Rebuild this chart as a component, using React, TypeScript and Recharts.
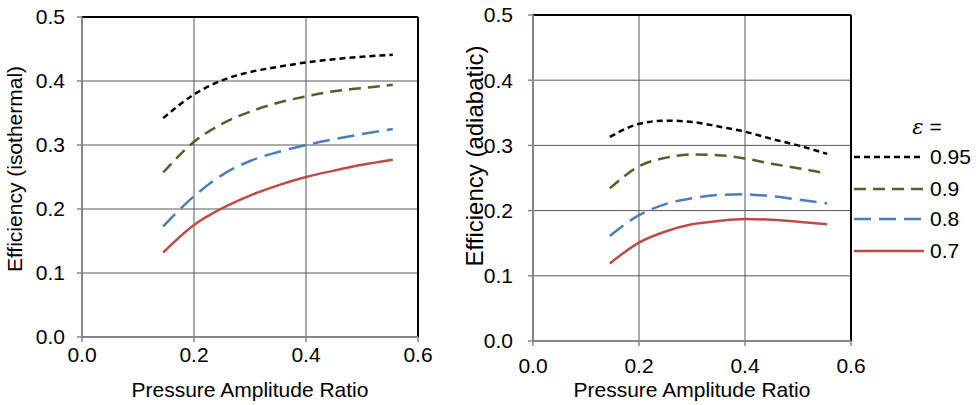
import React from "react"
import { LineChart, Line, XAxis, YAxis, CartesianGrid, ReferenceLine, Label, Legend } from "recharts"

const FONT = "'Liberation Sans', Arial, sans-serif"

// pressure amplitude ratio (x)
const pressureRatio = [0.145, 0.2, 0.25, 0.3, 0.35, 0.4, 0.45, 0.5, 0.555]

// isothermal efficiency
const isoE095 = [0.342, 0.379, 0.401, 0.414, 0.422, 0.429, 0.434, 0.438, 0.441]
const isoE090 = [0.257, 0.305, 0.333, 0.352, 0.366, 0.376, 0.384, 0.389, 0.394]
const isoE080 = [0.173, 0.22, 0.253, 0.275, 0.289, 0.3, 0.309, 0.317, 0.325]
const isoE070 = [0.132, 0.175, 0.201, 0.221, 0.237, 0.25, 0.26, 0.269, 0.277]

// adiabatic efficiency
const adiE095 = [0.313, 0.333, 0.338, 0.336, 0.329, 0.321, 0.31, 0.3, 0.287]
const adiE090 = [0.234, 0.268, 0.281, 0.286, 0.285, 0.28, 0.272, 0.265, 0.257]
const adiE080 = [0.161, 0.193, 0.21, 0.219, 0.224, 0.225, 0.222, 0.217, 0.211]
const adiE070 = [0.119, 0.151, 0.168, 0.179, 0.184, 0.187, 0.186, 0.183, 0.179]

const xTicks = [0, 0.2, 0.4, 0.6]
const yTicks = [0, 0.1, 0.2, 0.3, 0.4, 0.5]

const series = [
  { key: "e095", name: "0.95", color: "#000000", dash: "6 4" },
  { key: "e090", name: "0.9", color: "#4f6228", dash: "12 7" },
  { key: "e080", name: "0.8", color: "#4a7ebb", dash: "17 8" },
  { key: "e070", name: "0.7", color: "#be4b48", dash: undefined },
]

const isoData = pressureRatio.map((x, i) => ({
  x,
  e095: isoE095[i],
  e090: isoE090[i],
  e080: isoE080[i],
  e070: isoE070[i],
}))

const adiData = pressureRatio.map((x, i) => ({
  x,
  e095: adiE095[i],
  e090: adiE090[i],
  e080: adiE080[i],
  e070: adiE070[i],
}))

const fmt = (v: number) => v.toFixed(1)

function LegendBox() {
  return (
    <svg width={125} height={165} style={{ display: "block", overflow: "visible" }}>
      <text x={77} y={24} textAnchor="middle" fontSize={21} fontFamily={FONT} fill="#000">
        <tspan fontStyle="italic" fontFamily="'DejaVu Serif', serif">ε</tspan> =
      </text>
      {series.map((s, i) => {
        const y = [47, 79, 109, 141][i]
        return (
          <g key={s.key}>
            <line x1={4} x2={74} y1={y} y2={y} stroke={s.color} strokeWidth={2.5} strokeDasharray={s.dash} />
            <text x={80} y={y + 7} fontSize={21} fontFamily={FONT} fill="#000">
              {s.name}
            </text>
          </g>
        )
      })}
    </svg>
  )
}

interface PanelProps {
  data: typeof isoData
  width: number
  height: number
  margin: { top: number; right: number; left: number; bottom: number }
  yAxisWidth: number
  xAxisHeight: number
  yTickMargin: number
  xTickMargin: number
  yTitle: string
  yTitleX: number
  yTitleY: number
  yTitleSize: number
  legend?: boolean
}

function Panel(p: PanelProps) {
  return (
    <LineChart width={p.width} height={p.height} data={p.data} margin={p.margin}>
      <CartesianGrid stroke="#595959" strokeWidth={1} />
      <XAxis
        type="number"
        dataKey="x"
        domain={[0, 0.6]}
        ticks={xTicks}
        tickFormatter={fmt}
        height={p.xAxisHeight}
        axisLine={{ stroke: "#868686", strokeWidth: 2 }}
        tickLine={{ stroke: "#868686", strokeWidth: 1.5 }}
        tickSize={5}
        tickMargin={p.xTickMargin}
        tick={{ fill: "#000", fontSize: 21, fontFamily: FONT }}
        interval={0}
      >
        <Label
          content={(props: any) => {
            const vb = props.viewBox || {}
            return (
              <text
                x={vb.x + vb.width / 2}
                y={p.height - 8}
                textAnchor="middle"
                fontSize={21}
                fontFamily={FONT}
                fill="#000"
              >
                Pressure Amplitude Ratio
              </text>
            )
          }}
        />
      </XAxis>
      <YAxis
        type="number"
        domain={[0, 0.5]}
        ticks={yTicks}
        tickFormatter={fmt}
        width={p.yAxisWidth}
        axisLine={{ stroke: "#868686", strokeWidth: 2 }}
        tickLine={{ stroke: "#868686", strokeWidth: 1.5 }}
        tickSize={5}
        tickMargin={p.yTickMargin}
        tick={{ fill: "#000", fontSize: 21, fontFamily: FONT }}
        interval={0}
      >
        <Label
          content={() => (
            <text
              x={p.yTitleX}
              y={p.yTitleY}
              transform={`rotate(-90 ${p.yTitleX} ${p.yTitleY})`}
              textAnchor="middle"
              dominantBaseline="central"
              fontSize={p.yTitleSize}
              fontFamily={FONT}
              fill="#000"
            >
              {p.yTitle}
            </text>
          )}
        />
      </YAxis>
      <ReferenceLine y={0.5} stroke="#000" strokeWidth={2} />
      <ReferenceLine x={0.6} stroke="#000" strokeWidth={2} />
      {series.map((s) => (
        <Line
          key={s.key}
          type="monotone"
          dataKey={s.key}
          name={s.name}
          stroke={s.color}
          strokeWidth={2.5}
          strokeDasharray={s.dash}
          dot={false}
          activeDot={false}
          isAnimationActive={false}
        />
      ))}
      {p.legend && (
        <Legend
          layout="horizontal"
          verticalAlign="middle"
          align="center"
          wrapperStyle={{ left: 390, top: 110, width: 125, height: 165 }}
          content={() => <LegendBox />}
        />
      )}
    </LineChart>
  )
}

export default function App() {
  return (
    <div
      style={{
        position: "absolute",
        left: 0,
        top: 0,
        width: 977,
        height: 405,
        background: "#fff",
        fontFamily: FONT,
      }}
    >
      <div style={{ position: "absolute", left: 0, top: 0 }}>
        <Panel
          data={isoData}
          width={440}
          height={405}
          margin={{ top: 17, right: 22, left: 0, bottom: 0 }}
          yAxisWidth={82}
          xAxisHeight={68}
          yTickMargin={12}
          xTickMargin={5}
          yTitle="Efficiency (isothermal)"
          yTitleX={14}
          yTitleY={169}
          yTitleSize={21}
        />
      </div>
      <div style={{ position: "absolute", left: 460, top: 0 }}>
        <Panel
          data={adiData}
          width={517}
          height={405}
          margin={{ top: 15, right: 126, left: 0, bottom: 0 }}
          yAxisWidth={73}
          xAxisHeight={64}
          yTickMargin={15}
          xTickMargin={12}
          yTitle="Efficiency (adiabatic)"
          yTitleX={14}
          yTitleY={156}
          yTitleSize={24}
          legend
        />
      </div>
    </div>
  )
}
